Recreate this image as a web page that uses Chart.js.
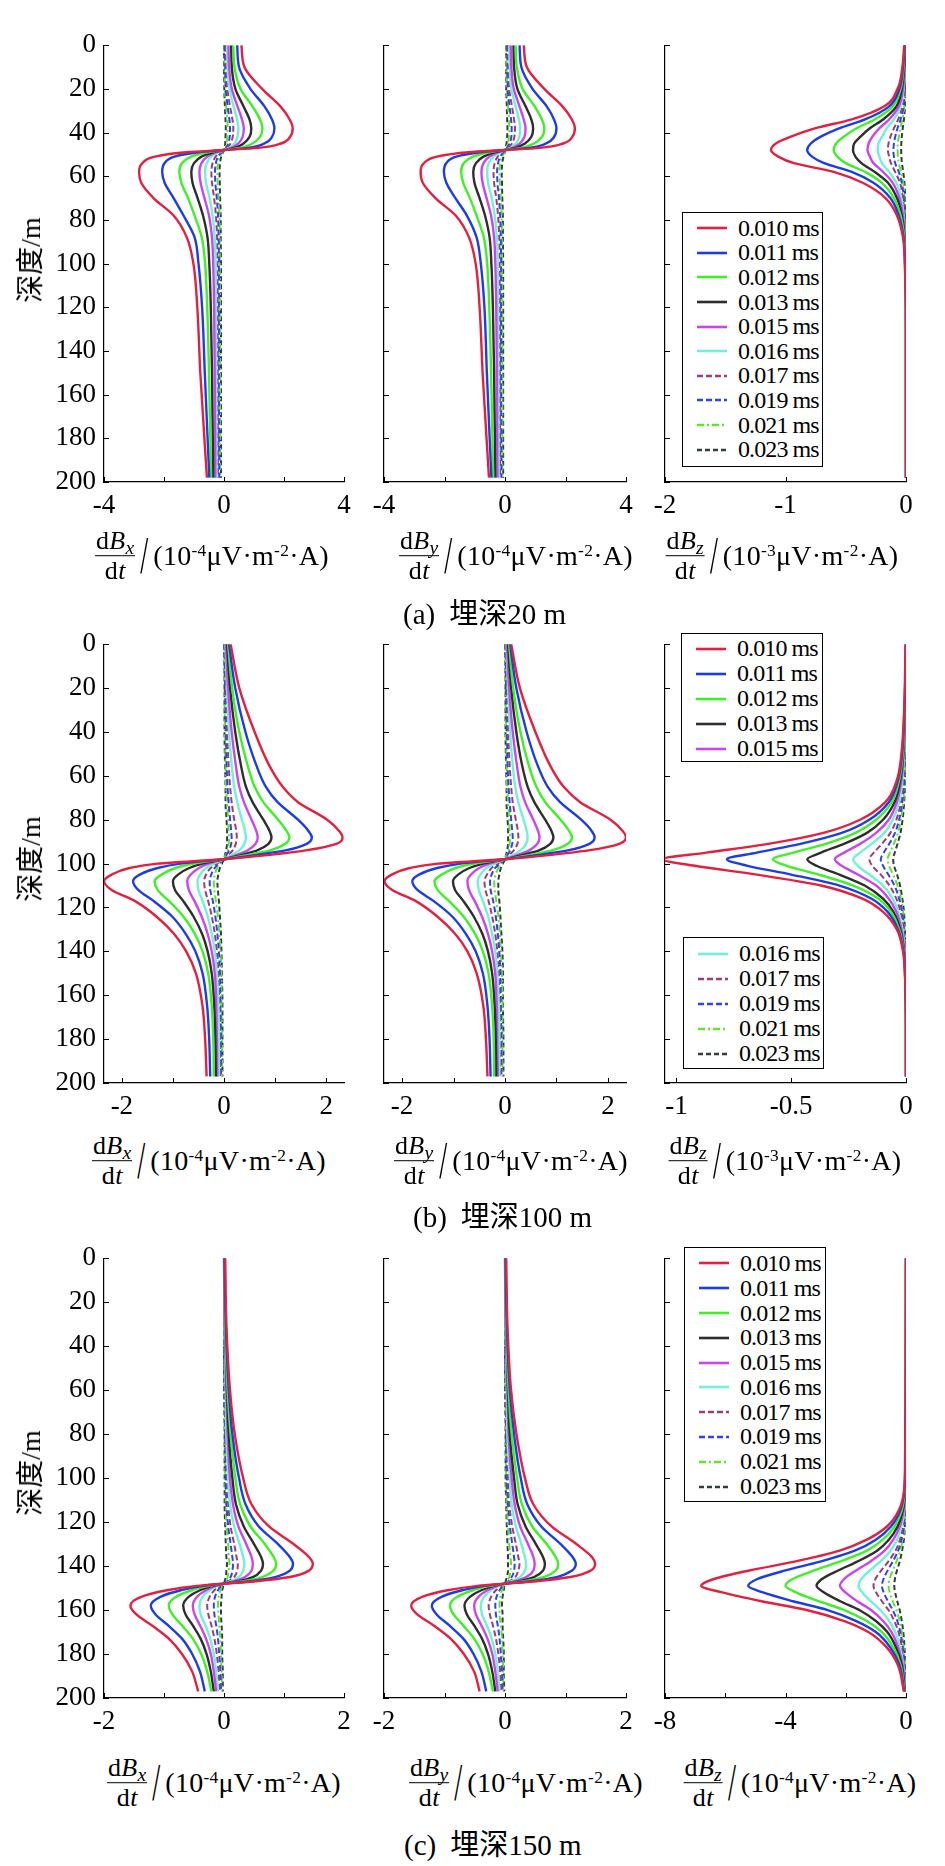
<!DOCTYPE html>
<html>
<head>
<meta charset="utf-8">
<script src="https://cdn.jsdelivr.net/npm/chart.js@4.4.1/dist/chart.umd.min.js"></script>
<style>
  html, body { margin: 0; padding: 0; background: #fff; }
  #page { position: relative; width: 945px; height: 1866px; overflow: hidden; font-family: 'Liberation Serif', 'Noto Sans CJK SC', serif; color: #000; }
  canvas { position: absolute; }
  .ttl { position: absolute; display: flex; align-items: center; white-space: nowrap; transform: translate(-50%, -50%); font-size: 28px; letter-spacing: 0.3px; }
  .frac { display: inline-flex; flex-direction: column; align-items: center; font-size: 26px; line-height: 1.05; }
  .frac .nu { border-bottom: 1.3px solid #000; padding: 0 1px 1px; }
  .frac .de { padding-top: 1px; }
  .sb { font-size: 0.75em; position: relative; top: 0.28em; }
  .sl { font-size: 52px; margin: 0 1px 0 2px; transform: scaleX(0.55); display: inline-block; line-height: 1; }
  sup { font-size: 0.62em; vertical-align: 0.55em; line-height: 0; }
  .cap { position: absolute; font-size: 29px; white-space: nowrap; transform: translateY(-50%); }
  .cap .gap { display: inline-block; width: 14px; }
  .ylab { position: absolute; font-size: 28px; white-space: nowrap; transform: translate(-50%, -50%) rotate(-90deg); }
  .leg { position: absolute; border: 1.3px solid #000; background: #fff; box-sizing: border-box; font-size: 24px; letter-spacing: -0.9px; }
  .leg .row { display: flex; align-items: center; white-space: nowrap; }
  .leg svg { margin-left: 14px; margin-right: 11px; }
</style>
</head>
<body>
<div id="page"></div>
<script>
const seriesNames = ['0.010 ms', '0.011 ms', '0.012 ms', '0.013 ms', '0.015 ms', '0.016 ms', '0.017 ms', '0.019 ms', '0.021 ms', '0.023 ms']
const seriesColors = ['#e3203f', '#1b3de6', '#3ff026', '#2e2e2e', '#c946ee', '#6ff2d8', '#a33a74', '#2a44f0', '#62e42c', '#2f3f3f']
const seriesDash = [[], [], [], [], [], [], [6, 3], [6, 3], [7, 3, 2, 3], [5, 3]]

// (a) depth samples for dBx/dt, dBy/dt and dBz/dt
const depthA = [0, 10, 20, 28, 34, 38, 42, 45, 47, 48, 49, 51, 54, 58, 63, 70, 78, 88, 100, 120, 150, 198]
const bxA = [
  [0.58, 0.68, 1.27, 1.88, 2.19, 2.29, 2.2, 1.9, 1.15, 0, -1.25, -2.3, -2.72, -2.83, -2.76, -2.35, -1.68, -1.24, -1.02, -0.89, -0.79, -0.57],
  [0.44, 0.5, 0.88, 1.35, 1.6, 1.68, 1.6, 1.35, 0.8, 0, -0.85, -1.65, -1.98, -2.06, -1.98, -1.68, -1.35, -0.98, -0.85, -0.73, -0.64, -0.49],
  [0.31, 0.35, 0.55, 0.95, 1.2, 1.28, 1.2, 0.95, 0.55, 0, -0.55, -1.1, -1.4, -1.49, -1.42, -1.2, -0.98, -0.74, -0.63, -0.56, -0.5, -0.43],
  [0.24, 0.26, 0.38, 0.65, 0.85, 0.91, 0.85, 0.65, 0.35, 0, -0.35, -0.75, -1.0, -1.09, -1.05, -0.88, -0.7, -0.55, -0.49, -0.44, -0.4, -0.36],
  [0.15, 0.17, 0.26, 0.45, 0.6, 0.66, 0.62, 0.48, 0.25, 0, -0.25, -0.55, -0.75, -0.82, -0.78, -0.65, -0.5, -0.4, -0.36, -0.33, -0.31, -0.29],
  [0.1, 0.12, 0.18, 0.32, 0.44, 0.48, 0.45, 0.35, 0.18, 0, -0.18, -0.42, -0.58, -0.63, -0.6, -0.48, -0.38, -0.31, -0.28, -0.27, -0.26, -0.25],
  [0.06, 0.07, 0.11, 0.2, 0.28, 0.31, 0.29, 0.22, 0.11, 0, -0.12, -0.28, -0.38, -0.42, -0.4, -0.33, -0.27, -0.23, -0.22, -0.21, -0.21, -0.2],
  [0.03, 0.04, 0.06, 0.12, 0.18, 0.2, 0.19, 0.14, 0.07, 0, -0.08, -0.2, -0.27, -0.3, -0.29, -0.24, -0.2, -0.18, -0.17, -0.17, -0.17, -0.16],
  [0.01, 0.02, 0.03, 0.07, 0.11, 0.12, 0.11, 0.08, 0.04, 0, -0.05, -0.14, -0.2, -0.22, -0.21, -0.18, -0.15, -0.14, -0.14, -0.13, -0.13, -0.13],
  [0, 0, 0.01, 0.03, 0.05, 0.06, 0.05, 0.04, 0.02, 0, -0.03, -0.09, -0.13, -0.15, -0.14, -0.13, -0.11, -0.11, -0.1, -0.1, -0.1, -0.1]
]
const byA = [
  [0.62, 0.72, 1.3, 1.9, 2.21, 2.31, 2.22, 1.92, 1.15, 0, -1.2, -2.25, -2.68, -2.79, -2.72, -2.3, -1.63, -1.19, -0.97, -0.84, -0.74, -0.53],
  [0.48, 0.54, 0.91, 1.38, 1.62, 1.7, 1.62, 1.36, 0.8, 0, -0.82, -1.61, -1.94, -2.02, -1.94, -1.64, -1.26, -0.94, -0.8, -0.68, -0.6, -0.45],
  [0.35, 0.39, 0.58, 0.98, 1.22, 1.3, 1.22, 0.96, 0.55, 0, -0.52, -1.06, -1.36, -1.45, -1.38, -1.16, -0.94, -0.7, -0.59, -0.52, -0.46, -0.39],
  [0.28, 0.3, 0.41, 0.68, 0.87, 0.93, 0.87, 0.66, 0.35, 0, -0.32, -0.71, -0.96, -1.05, -1.01, -0.84, -0.66, -0.51, -0.45, -0.4, -0.36, -0.32],
  [0.19, 0.21, 0.29, 0.48, 0.62, 0.68, 0.64, 0.49, 0.25, 0, -0.22, -0.51, -0.71, -0.78, -0.74, -0.61, -0.46, -0.36, -0.32, -0.29, -0.27, -0.25],
  [0.14, 0.16, 0.21, 0.35, 0.46, 0.5, 0.47, 0.36, 0.18, 0, -0.15, -0.38, -0.54, -0.59, -0.56, -0.44, -0.34, -0.27, -0.24, -0.23, -0.22, -0.21],
  [0.1, 0.11, 0.14, 0.23, 0.3, 0.33, 0.31, 0.23, 0.11, 0, -0.09, -0.24, -0.34, -0.38, -0.36, -0.29, -0.23, -0.19, -0.18, -0.17, -0.17, -0.16],
  [0.07, 0.08, 0.09, 0.15, 0.2, 0.22, 0.21, 0.15, 0.07, 0, -0.05, -0.16, -0.23, -0.26, -0.25, -0.2, -0.16, -0.14, -0.13, -0.13, -0.13, -0.12],
  [0.05, 0.05, 0.06, 0.1, 0.13, 0.14, 0.13, 0.09, 0.04, 0, -0.02, -0.1, -0.16, -0.18, -0.17, -0.14, -0.11, -0.1, -0.1, -0.09, -0.09, -0.09],
  [0.04, 0.04, 0.04, 0.06, 0.07, 0.08, 0.07, 0.05, 0.02, 0, -0.01, -0.05, -0.09, -0.11, -0.1, -0.09, -0.07, -0.07, -0.06, -0.06, -0.06, -0.06]
]
const depthAz = [0, 10, 20, 28, 34, 38, 42, 45, 48, 51, 54, 58, 63, 70, 78, 88, 100, 130, 198]
const bzA = [
  [-0.015, -0.03, -0.07, -0.18, -0.45, -0.75, -0.96, -1.08, -1.12, -1.06, -0.93, -0.6, -0.36, -0.17, -0.075, -0.025, -0.01, 0, 0],
  [-0.01, -0.025, -0.055, -0.14, -0.34, -0.55, -0.71, -0.79, -0.82, -0.78, -0.68, -0.45, -0.27, -0.13, -0.06, -0.02, -0.008, 0, 0],
  [-0.01, -0.02, -0.045, -0.11, -0.26, -0.41, -0.52, -0.58, -0.6, -0.57, -0.5, -0.34, -0.2, -0.1, -0.045, -0.015, -0.005, 0, 0],
  [-0.005, -0.015, -0.035, -0.08, -0.19, -0.3, -0.38, -0.43, -0.44, -0.42, -0.37, -0.26, -0.15, -0.075, -0.035, -0.012, -0.004, 0, 0],
  [-0.005, -0.01, -0.025, -0.06, -0.14, -0.22, -0.28, -0.31, -0.32, -0.3, -0.27, -0.19, -0.11, -0.055, -0.025, -0.01, -0.003, 0, 0],
  [0, -0.008, -0.02, -0.045, -0.1, -0.16, -0.2, -0.23, -0.235, -0.22, -0.2, -0.14, -0.08, -0.04, -0.02, -0.008, -0.002, 0, 0],
  [0, -0.005, -0.013, -0.03, -0.065, -0.1, -0.13, -0.145, -0.15, -0.14, -0.125, -0.09, -0.05, -0.025, -0.012, -0.005, 0, 0, 0],
  [0, -0.003, -0.009, -0.02, -0.045, -0.07, -0.09, -0.1, -0.105, -0.1, -0.09, -0.06, -0.035, -0.018, -0.008, -0.003, 0, 0, 0],
  [0, -0.002, -0.006, -0.014, -0.03, -0.047, -0.06, -0.068, -0.07, -0.067, -0.06, -0.04, -0.023, -0.012, -0.005, -0.002, 0, 0, 0],
  [0, -0.001, -0.003, -0.008, -0.017, -0.027, -0.035, -0.039, -0.04, -0.038, -0.034, -0.023, -0.013, -0.007, -0.003, -0.001, 0, 0, 0]
]

// (b)
const depthB = [0, 20, 40, 55, 65, 72, 80, 85, 88, 91, 94, 96, 98, 100, 102, 105, 108, 112, 117, 124, 132, 140, 150, 165, 180, 197]
const bxB = [
  [0.13, 0.3, 0.6, 0.88, 1.15, 1.45, 2.02, 2.25, 2.32, 2.2, 1.6, 0.9, 0, -1.3, -1.85, -2.2, -2.35, -2.2, -1.75, -1.33, -0.98, -0.74, -0.55, -0.42, -0.37, -0.34],
  [0.1, 0.22, 0.42, 0.63, 0.82, 1.05, 1.45, 1.65, 1.72, 1.62, 1.2, 0.65, 0, -0.85, -1.3, -1.65, -1.78, -1.68, -1.38, -1.02, -0.75, -0.56, -0.42, -0.33, -0.29, -0.27],
  [0.08, 0.16, 0.3, 0.46, 0.6, 0.77, 1.06, 1.22, 1.28, 1.2, 0.9, 0.48, 0, -0.6, -0.95, -1.22, -1.36, -1.3, -1.08, -0.8, -0.57, -0.42, -0.31, -0.24, -0.21, -0.2],
  [0.06, 0.12, 0.22, 0.33, 0.43, 0.56, 0.77, 0.89, 0.93, 0.87, 0.65, 0.35, 0, -0.42, -0.68, -0.9, -1.0, -0.96, -0.8, -0.6, -0.43, -0.32, -0.24, -0.19, -0.17, -0.16],
  [0.04, 0.08, 0.15, 0.23, 0.3, 0.39, 0.54, 0.63, 0.66, 0.62, 0.46, 0.25, 0, -0.3, -0.49, -0.65, -0.72, -0.69, -0.58, -0.44, -0.32, -0.24, -0.18, -0.15, -0.14, -0.13],
  [0.03, 0.06, 0.1, 0.15, 0.2, 0.26, 0.35, 0.41, 0.43, 0.4, 0.3, 0.16, 0, -0.2, -0.35, -0.47, -0.52, -0.5, -0.42, -0.32, -0.24, -0.18, -0.14, -0.11, -0.1, -0.1],
  [0.02, 0.04, 0.06, 0.09, 0.12, 0.15, 0.2, 0.24, 0.25, 0.23, 0.17, 0.09, 0, -0.14, -0.26, -0.35, -0.39, -0.37, -0.31, -0.24, -0.18, -0.14, -0.11, -0.09, -0.08, -0.08],
  [0.01, 0.02, 0.04, 0.05, 0.07, 0.09, 0.12, 0.14, 0.15, 0.14, 0.1, 0.05, 0, -0.1, -0.18, -0.25, -0.28, -0.27, -0.22, -0.17, -0.13, -0.1, -0.08, -0.07, -0.06, -0.06],
  [0.01, 0.01, 0.02, 0.03, 0.04, 0.06, 0.08, 0.09, 0.1, 0.09, 0.07, 0.03, 0, -0.07, -0.13, -0.18, -0.2, -0.19, -0.16, -0.12, -0.09, -0.07, -0.05, -0.05, -0.04, -0.04],
  [0, 0.01, 0.01, 0.02, 0.03, 0.03, 0.05, 0.06, 0.06, 0.06, 0.04, 0.02, 0, -0.04, -0.08, -0.11, -0.13, -0.12, -0.1, -0.08, -0.06, -0.05, -0.04, -0.03, -0.03, -0.03]
]
const byB = [
  [0.12, 0.29, 0.59, 0.87, 1.14, 1.46, 2.05, 2.28, 2.35, 2.22, 1.62, 0.9, 0, -1.3, -1.85, -2.2, -2.34, -2.19, -1.74, -1.32, -0.97, -0.73, -0.55, -0.42, -0.37, -0.34],
  [0.1, 0.22, 0.42, 0.63, 0.83, 1.07, 1.48, 1.68, 1.74, 1.64, 1.22, 0.66, 0, -0.86, -1.32, -1.67, -1.8, -1.7, -1.39, -1.03, -0.76, -0.57, -0.43, -0.34, -0.3, -0.28],
  [0.08, 0.16, 0.3, 0.46, 0.61, 0.78, 1.08, 1.24, 1.3, 1.22, 0.91, 0.49, 0, -0.6, -0.96, -1.23, -1.37, -1.31, -1.09, -0.81, -0.58, -0.43, -0.32, -0.25, -0.22, -0.21],
  [0.06, 0.12, 0.22, 0.33, 0.44, 0.57, 0.78, 0.9, 0.94, 0.88, 0.66, 0.35, 0, -0.42, -0.69, -0.91, -1.01, -0.97, -0.81, -0.61, -0.44, -0.33, -0.25, -0.2, -0.18, -0.17],
  [0.04, 0.08, 0.15, 0.23, 0.3, 0.39, 0.55, 0.64, 0.67, 0.63, 0.47, 0.25, 0, -0.3, -0.5, -0.66, -0.73, -0.7, -0.59, -0.45, -0.33, -0.25, -0.19, -0.16, -0.15, -0.14],
  [0.03, 0.06, 0.1, 0.15, 0.2, 0.26, 0.36, 0.42, 0.44, 0.41, 0.3, 0.16, 0, -0.21, -0.36, -0.48, -0.53, -0.51, -0.43, -0.33, -0.25, -0.19, -0.15, -0.12, -0.11, -0.11],
  [0.02, 0.04, 0.06, 0.09, 0.12, 0.15, 0.21, 0.25, 0.26, 0.24, 0.17, 0.09, 0, -0.14, -0.26, -0.35, -0.4, -0.38, -0.32, -0.25, -0.19, -0.15, -0.12, -0.1, -0.09, -0.09],
  [0.01, 0.02, 0.04, 0.05, 0.07, 0.09, 0.12, 0.14, 0.15, 0.14, 0.1, 0.05, 0, -0.1, -0.19, -0.26, -0.29, -0.28, -0.23, -0.18, -0.14, -0.11, -0.09, -0.08, -0.07, -0.07],
  [0.01, 0.01, 0.02, 0.03, 0.04, 0.06, 0.08, 0.09, 0.1, 0.09, 0.07, 0.03, 0, -0.07, -0.13, -0.18, -0.21, -0.2, -0.17, -0.13, -0.1, -0.08, -0.06, -0.05, -0.05, -0.05],
  [0, 0.01, 0.01, 0.02, 0.03, 0.03, 0.05, 0.06, 0.06, 0.06, 0.04, 0.02, 0, -0.04, -0.08, -0.11, -0.13, -0.13, -0.11, -0.09, -0.07, -0.05, -0.04, -0.04, -0.03, -0.03]
]
const depthBz = [0, 30, 50, 62, 72, 80, 86, 91, 95, 98, 101, 105, 110, 116, 122, 130, 140, 155, 175, 197]
const bzB = [
  [-0.002, -0.008, -0.02, -0.04, -0.09, -0.2, -0.36, -0.6, -0.87, -1.06, -0.92, -0.65, -0.37, -0.19, -0.1, -0.04, -0.013, -0.003, 0, 0],
  [0, -0.007, -0.017, -0.035, -0.075, -0.16, -0.28, -0.46, -0.65, -0.78, -0.69, -0.5, -0.29, -0.15, -0.08, -0.035, -0.011, -0.003, 0, 0],
  [0, -0.006, -0.014, -0.03, -0.062, -0.13, -0.22, -0.35, -0.49, -0.58, -0.52, -0.38, -0.23, -0.12, -0.065, -0.03, -0.01, -0.003, 0, 0],
  [0, -0.005, -0.012, -0.025, -0.05, -0.1, -0.17, -0.27, -0.37, -0.43, -0.39, -0.29, -0.18, -0.1, -0.055, -0.025, -0.009, -0.002, 0, 0],
  [0, -0.004, -0.01, -0.02, -0.04, -0.075, -0.13, -0.2, -0.27, -0.31, -0.28, -0.21, -0.13, -0.075, -0.042, -0.02, -0.007, -0.002, 0, 0],
  [0, -0.003, -0.008, -0.016, -0.03, -0.058, -0.095, -0.15, -0.2, -0.23, -0.21, -0.16, -0.1, -0.058, -0.033, -0.016, -0.006, -0.002, 0, 0],
  [0, -0.002, -0.006, -0.012, -0.022, -0.042, -0.068, -0.105, -0.14, -0.16, -0.147, -0.11, -0.072, -0.042, -0.024, -0.012, -0.005, -0.001, 0, 0],
  [0, -0.002, -0.004, -0.008, -0.016, -0.03, -0.048, -0.073, -0.097, -0.11, -0.1, -0.077, -0.05, -0.03, -0.017, -0.009, -0.004, -0.001, 0, 0],
  [0, -0.001, -0.003, -0.006, -0.012, -0.022, -0.035, -0.053, -0.07, -0.08, -0.074, -0.056, -0.037, -0.022, -0.013, -0.007, -0.003, -0.001, 0, 0],
  [0, -0.001, -0.002, -0.004, -0.008, -0.015, -0.024, -0.037, -0.049, -0.056, -0.052, -0.039, -0.026, -0.016, -0.009, -0.005, -0.002, 0, 0, 0]
]

// (c)
const depthC = [0, 30, 60, 80, 100, 112, 122, 130, 136, 139, 142, 145, 147, 148, 149, 151, 154, 158, 162, 167, 173, 180, 188, 197]
const bxC = [
  [0.02, 0.04, 0.1, 0.18, 0.32, 0.46, 0.75, 1.16, 1.42, 1.48, 1.42, 1.1, 0.5, 0, -0.45, -0.95, -1.38, -1.56, -1.46, -1.2, -0.92, -0.7, -0.53, -0.43],
  [0.01, 0.03, 0.08, 0.14, 0.25, 0.36, 0.58, 0.9, 1.1, 1.15, 1.1, 0.85, 0.4, 0, -0.35, -0.72, -1.06, -1.22, -1.14, -0.93, -0.7, -0.53, -0.4, -0.32],
  [0.01, 0.02, 0.06, 0.11, 0.19, 0.27, 0.44, 0.68, 0.83, 0.87, 0.83, 0.64, 0.3, 0, -0.26, -0.54, -0.8, -0.92, -0.86, -0.7, -0.52, -0.38, -0.28, -0.21],
  [0.01, 0.02, 0.05, 0.08, 0.14, 0.2, 0.33, 0.5, 0.62, 0.65, 0.62, 0.48, 0.22, 0, -0.19, -0.4, -0.59, -0.68, -0.64, -0.52, -0.39, -0.29, -0.22, -0.17],
  [0, 0.01, 0.04, 0.06, 0.1, 0.15, 0.24, 0.37, 0.46, 0.48, 0.46, 0.35, 0.16, 0, -0.14, -0.3, -0.45, -0.52, -0.49, -0.4, -0.3, -0.22, -0.17, -0.13],
  [0, 0.01, 0.03, 0.04, 0.07, 0.1, 0.17, 0.26, 0.32, 0.34, 0.32, 0.25, 0.11, 0, -0.11, -0.24, -0.36, -0.41, -0.39, -0.31, -0.23, -0.17, -0.13, -0.1],
  [0, 0.01, 0.02, 0.03, 0.05, 0.07, 0.11, 0.17, 0.21, 0.23, 0.22, 0.17, 0.07, 0, -0.07, -0.16, -0.24, -0.28, -0.26, -0.21, -0.16, -0.12, -0.09, -0.07],
  [0, 0, 0.01, 0.02, 0.03, 0.04, 0.07, 0.11, 0.14, 0.15, 0.14, 0.11, 0.05, 0, -0.05, -0.1, -0.15, -0.17, -0.16, -0.13, -0.1, -0.08, -0.06, -0.05],
  [0, 0, 0.01, 0.01, 0.02, 0.03, 0.04, 0.07, 0.08, 0.09, 0.08, 0.06, 0.03, 0, -0.03, -0.06, -0.09, -0.1, -0.09, -0.08, -0.06, -0.05, -0.04, -0.03],
  [0, 0, 0, 0.01, 0.01, 0.01, 0.02, 0.03, 0.04, 0.05, 0.04, 0.03, 0.01, 0, -0.01, -0.03, -0.04, -0.05, -0.05, -0.04, -0.03, -0.03, -0.02, -0.02]
]
const byC = [
  [0.02, 0.04, 0.1, 0.19, 0.33, 0.47, 0.77, 1.18, 1.44, 1.49, 1.42, 1.08, 0.48, 0, -0.45, -0.95, -1.37, -1.55, -1.45, -1.18, -0.9, -0.68, -0.51, -0.42],
  [0.01, 0.03, 0.08, 0.15, 0.26, 0.37, 0.6, 0.92, 1.12, 1.17, 1.11, 0.85, 0.38, 0, -0.34, -0.71, -1.05, -1.21, -1.13, -0.92, -0.69, -0.52, -0.39, -0.31],
  [0.01, 0.02, 0.06, 0.11, 0.2, 0.28, 0.45, 0.69, 0.84, 0.88, 0.84, 0.64, 0.29, 0, -0.25, -0.53, -0.79, -0.91, -0.85, -0.69, -0.51, -0.37, -0.27, -0.2],
  [0.01, 0.02, 0.05, 0.08, 0.15, 0.21, 0.34, 0.51, 0.63, 0.66, 0.63, 0.48, 0.21, 0, -0.18, -0.39, -0.58, -0.67, -0.63, -0.51, -0.38, -0.28, -0.21, -0.16],
  [0, 0.01, 0.04, 0.06, 0.11, 0.16, 0.25, 0.38, 0.47, 0.49, 0.47, 0.35, 0.15, 0, -0.13, -0.29, -0.44, -0.51, -0.48, -0.39, -0.29, -0.21, -0.16, -0.12],
  [0, 0.01, 0.03, 0.04, 0.08, 0.11, 0.18, 0.27, 0.33, 0.35, 0.33, 0.25, 0.1, 0, -0.1, -0.23, -0.35, -0.4, -0.38, -0.3, -0.22, -0.16, -0.12, -0.09],
  [0, 0.01, 0.02, 0.03, 0.05, 0.07, 0.12, 0.18, 0.22, 0.24, 0.22, 0.17, 0.07, 0, -0.06, -0.15, -0.23, -0.27, -0.25, -0.2, -0.15, -0.11, -0.08, -0.06],
  [0, 0, 0.01, 0.02, 0.03, 0.05, 0.08, 0.12, 0.15, 0.16, 0.15, 0.11, 0.05, 0, -0.04, -0.09, -0.14, -0.16, -0.15, -0.12, -0.09, -0.07, -0.05, -0.04],
  [0, 0, 0.01, 0.01, 0.02, 0.03, 0.05, 0.07, 0.09, 0.1, 0.09, 0.07, 0.03, 0, -0.02, -0.05, -0.08, -0.09, -0.09, -0.07, -0.05, -0.04, -0.03, -0.03],
  [0, 0, 0, 0.01, 0.01, 0.02, 0.03, 0.04, 0.05, 0.05, 0.05, 0.03, 0.01, 0, -0.01, -0.02, -0.04, -0.05, -0.04, -0.04, -0.03, -0.02, -0.02, -0.01]
]
const depthCz = [0, 60, 90, 105, 115, 122, 128, 133, 138, 142, 146, 149, 152, 156, 160, 165, 170, 177, 185, 197]
const bzC = [
  [0, -0.01, -0.03, -0.06, -0.25, -0.63, -1.3, -2.2, -3.7, -5.2, -6.4, -6.8, -6.1, -4.8, -3.3, -2.05, -1.25, -0.64, -0.27, -0.07],
  [0, -0.01, -0.02, -0.05, -0.2, -0.5, -1.0, -1.7, -2.85, -4.0, -4.95, -5.24, -4.75, -3.75, -2.6, -1.65, -1.0, -0.52, -0.22, -0.06],
  [0, -0.01, -0.02, -0.04, -0.15, -0.38, -0.77, -1.3, -2.2, -3.05, -3.78, -4.0, -3.65, -2.9, -2.05, -1.3, -0.8, -0.42, -0.18, -0.05],
  [0, 0, -0.01, -0.03, -0.11, -0.28, -0.57, -0.96, -1.62, -2.25, -2.8, -2.97, -2.72, -2.18, -1.55, -1.0, -0.62, -0.33, -0.14, -0.04],
  [0, 0, -0.01, -0.02, -0.08, -0.21, -0.42, -0.71, -1.19, -1.66, -2.06, -2.19, -2.01, -1.62, -1.16, -0.76, -0.48, -0.26, -0.11, -0.03],
  [0, 0, -0.01, -0.02, -0.06, -0.15, -0.3, -0.51, -0.86, -1.2, -1.49, -1.58, -1.45, -1.17, -0.85, -0.56, -0.36, -0.2, -0.09, -0.03],
  [0, 0, 0, -0.01, -0.04, -0.1, -0.2, -0.35, -0.59, -0.82, -1.02, -1.08, -0.99, -0.8, -0.58, -0.39, -0.25, -0.14, -0.07, -0.02],
  [0, 0, 0, -0.01, -0.03, -0.07, -0.15, -0.26, -0.44, -0.61, -0.75, -0.8, -0.74, -0.6, -0.44, -0.29, -0.19, -0.11, -0.05, -0.02],
  [0, 0, 0, -0.01, -0.02, -0.05, -0.11, -0.19, -0.32, -0.44, -0.55, -0.58, -0.54, -0.44, -0.32, -0.21, -0.14, -0.08, -0.04, -0.01],
  [0, 0, 0, 0, -0.01, -0.04, -0.07, -0.13, -0.21, -0.3, -0.37, -0.39, -0.36, -0.29, -0.21, -0.14, -0.09, -0.05, -0.03, -0.01]
]

// axis ranges and labelled ticks
const depthTicks = [0, 20, 40, 60, 80, 100, 120, 140, 160, 180, 200]
const panels = [
  {row: 0, col: 0, depths: depthA, vals: bxA, min: -4, max: 4, step: 2, labels: [-4, 0, 4]},
  {row: 0, col: 1, depths: depthA, vals: byA, min: -4, max: 4, step: 2, labels: [-4, 0, 4]},
  {row: 0, col: 2, depths: depthAz, vals: bzA, min: -2, max: 0, step: 1, labels: [-2, -1, 0]},
  {row: 1, col: 0, depths: depthB, vals: bxB, min: -2.35, max: 2.35, step: 1, labels: [-2, 0, 2]},
  {row: 1, col: 1, depths: depthB, vals: byB, min: -2.35, max: 2.35, step: 1, labels: [-2, 0, 2]},
  {row: 1, col: 2, depths: depthBz, vals: bzB, min: -1.05, max: 0, step: 0.5, labels: [-1, -0.5, 0]},
  {row: 2, col: 0, depths: depthC, vals: bxC, min: -2, max: 2, step: 1, labels: [-2, 0, 2]},
  {row: 2, col: 1, depths: depthC, vals: byC, min: -2, max: 2, step: 1, labels: [-2, 0, 2]},
  {row: 2, col: 2, depths: depthCz, vals: bzC, min: -8, max: 0, step: 2, labels: [-8, -4, 0]}
]

const colLeft = [104, 384, 665]
const colWidth = [240, 242, 241]
const rowTop = [37, 636, 1250]
const rowBottom = [482, 1083, 1698]
const page = document.getElementById('page')
Chart.defaults.font.family = 'Liberation Serif'
const tickFont = {family: 'Liberation Serif', size: 27}

// inward tick marks like the original figure
const innerTicks = {
  id: 'innerTicks',
  afterDraw(chart) {
    const ctx = chart.ctx, a = chart.chartArea, sx = chart.scales.x, sy = chart.scales.y
    ctx.save()
    ctx.strokeStyle = '#000'
    ctx.lineWidth = 1
    ctx.beginPath()
    sx.ticks.forEach(t => {
      const p = Math.round(sx.getPixelForValue(t.value)) + 0.5
      ctx.moveTo(p, a.bottom)
      ctx.lineTo(p, a.bottom - 5)
    })
    sy.ticks.forEach(t => {
      const p = Math.round(sy.getPixelForValue(t.value)) + 0.5
      ctx.moveTo(a.left, p)
      ctx.lineTo(a.left + 5, p)
    })
    ctx.stroke()
    ctx.restore()
  }
}

const makePanel = (p) => {
  const left = colLeft[p.col], top = rowTop[p.row]
  const pw = colWidth[p.col], ph = rowBottom[p.row] - top
  const cv = document.createElement('canvas')
  cv.width = 100 + pw + 24
  cv.height = 16 + ph + 46
  cv.style.left = (left - 100) + 'px'
  cv.style.top = (top - 16) + 'px'
  page.appendChild(cv)

  const datasets = p.vals.map((serie, i) => ({
    label: seriesNames[i],
    data: serie.map((v, k) => ({x: v, y: p.depths[k]})),
    borderColor: seriesColors[i],
    borderWidth: i < 6 ? 2.4 : 2,
    borderDash: seriesDash[i],
    pointRadius: 0,
    cubicInterpolationMode: 'monotone',
    fill: false
  }))

  new Chart(cv, {
    type: 'line',
    data: {datasets},
    options: {
      indexAxis: 'y',
      responsive: false,
      animation: false,
      layout: {padding: {top: 16, right: 24, left: 0, bottom: 0}},
      plugins: {legend: {display: false}, tooltip: {enabled: false}},
      scales: {
        x: {
          type: 'linear', min: p.min, max: p.max,
          grid: {drawOnChartArea: false, drawTicks: false},
          border: {color: '#000', width: 1.2},
          ticks: {
            stepSize: p.step, includeBounds: false, autoSkip: false, maxRotation: 0,
            padding: 8, color: '#000', font: tickFont,
            callback: (v) => p.labels.includes(v) ? String(v) : ''
          },
          afterFit: (s) => { s.height = 46 }
        },
        y: {
          type: 'linear', reverse: true, min: 0, max: 200,
          grid: {drawOnChartArea: false, drawTicks: false},
          border: {color: '#000', width: 1.2},
          ticks: {
            stepSize: 20, autoSkip: false, padding: 8, color: '#000', font: tickFont,
            callback: (v) => (p.col === 0 && depthTicks.includes(v)) ? String(v) : ''
          },
          afterFit: (s) => { s.width = 100 }
        }
      }
    },
    plugins: [innerTicks]
  })
}

panels.forEach(makePanel)

// axis titles under each panel
const comp = ['x', 'y', 'z']
const expo = [['-4', '-4', '-3'], ['-4', '-4', '-3'], ['-4', '-4', '-4']]
const titleX = [[212, 516, 782], [209, 511, 785], [224, 526, 800]]
const titleY = [556, 1161, 1783]
for (let r = 0; r < 3; r++) {
  for (let c = 0; c < 3; c++) {
    const d = document.createElement('div')
    d.className = 'ttl'
    d.style.left = titleX[r][c] + 'px'
    d.style.top = titleY[r] + 'px'
    d.innerHTML = '<span class="frac"><span class="nu">d<i>B</i><i class="sb">' + comp[c] + '</i></span><span class="de">d<i>t</i></span></span>' +
      '<span class="sl">/</span><span>(10<sup>' + expo[r][c] + '</sup>μV·m<sup>-2</sup>·A)</span>'
    page.appendChild(d)
  }
}

// y titles and captions
const rowMid = [260, 859, 1473]
const captions = [['(a)', '埋深20 m'], ['(b)', '埋深100 m'], ['(c)', '埋深150 m']]
const capPos = [[403, 611], [413, 1214], [404, 1842]]
for (let r = 0; r < 3; r++) {
  const y = document.createElement('div')
  y.className = 'ylab'
  y.style.left = '28px'
  y.style.top = rowMid[r] + 'px'
  y.textContent = '深度/m'
  page.appendChild(y)

  const cp = document.createElement('div')
  cp.className = 'cap'
  cp.style.left = capPos[r][0] + 'px'
  cp.style.top = capPos[r][1] + 'px'
  cp.innerHTML = captions[r][0] + '<span class="gap"></span>' + captions[r][1]
  page.appendChild(cp)
}

// legends (row b is split in two boxes)
const legendBoxes = [
  {left: 682, top: 212, w: 141, h: 255, items: [0, 1, 2, 3, 4, 5, 6, 7, 8, 9], rowH: 24.6, padTop: 3},
  {left: 681, top: 633, w: 142, h: 129, items: [0, 1, 2, 3, 4], rowH: 25, padTop: 2},
  {left: 683, top: 937, w: 141, h: 132, items: [5, 6, 7, 8, 9], rowH: 25, padTop: 3},
  {left: 684, top: 1247, w: 142, h: 255, items: [0, 1, 2, 3, 4, 5, 6, 7, 8, 9], rowH: 24.8, padTop: 3}
]
legendBoxes.forEach(b => {
  const box = document.createElement('div')
  box.className = 'leg'
  box.style.left = b.left + 'px'
  box.style.top = b.top + 'px'
  box.style.width = b.w + 'px'
  box.style.height = b.h + 'px'
  box.style.paddingTop = b.padTop + 'px'
  b.items.forEach(i => {
    const row = document.createElement('div')
    row.className = 'row'
    row.style.height = b.rowH + 'px'
    const dash = seriesDash[i].length ? ' stroke-dasharray="' + seriesDash[i].join(' ') + '"' : ''
    row.innerHTML = '<svg width="30" height="4"><line x1="0" y1="2" x2="30" y2="2" stroke="' + seriesColors[i] + '" stroke-width="2.6"' + dash + '/></svg><span>' + seriesNames[i] + '</span>'
    box.appendChild(row)
  })
  page.appendChild(box)
})
</script>
</body>
</html>
